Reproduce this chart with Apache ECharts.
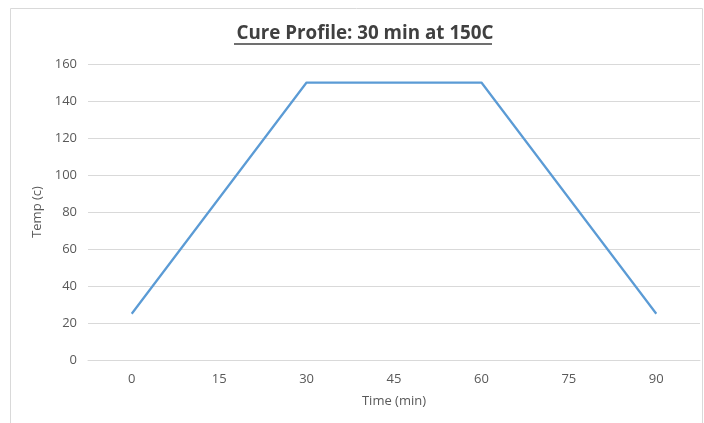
<!DOCTYPE html>
<html>
<head>
<meta charset="utf-8">
<script src="https://cdn.jsdelivr.net/npm/echarts@6/dist/echarts.min.js"></script>
<style>
  html, body { margin: 0; padding: 0; background: #fff; }
  #chart { width: 704px; height: 423px; }
</style>
</head>
<body>
<div id="chart"></div>
<script>
// time labels (min) and temperature readings, null = no reading at that tick
var timeLabels = ["0", "15", "30", "45", "60", "75", "90"];
var tempValues = [25, null, 150, null, 150, null, 25];

var chart = echarts.init(document.getElementById("chart"));
var font = "'Open Sans', 'Liberation Sans', sans-serif";

var options = {
  animation: false,
  title: {
    text: "Cure Profile: 30 min at 150C",
    left: 360, top: 19, textAlign: "center",
    textStyle: { fontFamily: font, fontSize: 18.8, fontWeight: "bold", color: "#404040" }
  },
  grid: { left: 88, right: 4, top: 64, bottom: 63 },
  xAxis: {
    type: "category",
    data: timeLabels,
    name: "Time (min)",
    nameLocation: "middle",
    nameGap: 35,
    nameTextStyle: { fontFamily: font, fontSize: 13, color: "#595959" },
    axisLine: { lineStyle: { color: "#d9d9d9", width: 1 } },
    axisTick: { show: false },
    axisLabel: { fontFamily: font, fontSize: 13, color: "#595959", margin: 13 }
  },
  yAxis: {
    type: "value",
    min: 0, max: 160, interval: 20,
    name: "Temp (c)",
    nameLocation: "middle",
    nameGap: 41,
    nameTextStyle: { fontFamily: font, fontSize: 13, color: "#595959" },
    axisLine: { show: false },
    axisTick: { show: false },
    axisLabel: { fontFamily: font, fontSize: 13, color: "#595959", margin: 11 },
    splitLine: { lineStyle: { color: "#d9d9d9", width: 1 } }
  },
  series: [{
    type: "line",
    data: tempValues,
    connectNulls: true,
    showSymbol: false,
    lineStyle: { color: "#5b9bd5", width: 2.25 },
    itemStyle: { color: "#5b9bd5" }
  }],
  graphic: [
    { type: "rect", shape: { x: 10.5, y: 8.5, width: 692, height: 420 },
      style: { fill: null, stroke: "#d9d9d9", lineWidth: 1 }, silent: true },
    { type: "line", shape: { x1: 234, y1: 44, x2: 492, y2: 44 },
      style: { stroke: "#404040", lineWidth: 1.5 }, silent: true }
  ]
};
chart.setOption(options);
</script>
</body>
</html>
